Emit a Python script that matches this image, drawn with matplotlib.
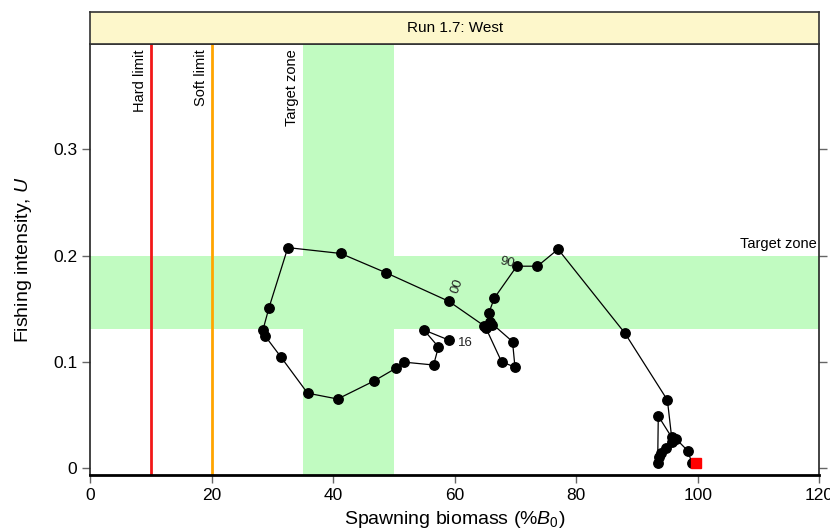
import numpy as np
import matplotlib
matplotlib.use('Agg')
import matplotlib.pyplot as plt

plt.rcParams['font.family'] = ['Liberation Sans', 'DejaVu Sans']
plt.rcParams['mathtext.fontset'] = 'custom'
plt.rcParams['mathtext.rm'] = 'Liberation Sans'
plt.rcParams['mathtext.it'] = 'Liberation Sans:italic'

# trajectory, 1975 - 2016 (spawning biomass %B0, fishing intensity U)
years = list(range(1975, 2017))
biomass = [99.7, 99.0, 98.4, 96.5, 95.7, 94.85, 94.0, 93.7, 93.4, 93.5,
           95.7, 95.0, 88.0, 77.0, 73.6, 70.2, 66.5, 65.6, 65.8, 69.5,
           69.9, 67.7, 65.1, 66.1, 64.8, 59.0, 48.6, 41.2, 32.5, 29.4,
           28.4, 28.8, 31.3, 35.75, 40.7, 46.7, 50.3, 51.65, 56.5, 57.3,
           54.9, 59.0]
intensity = [0.005, 0.005, 0.016, 0.027, 0.025, 0.019, 0.014, 0.010, 0.005, 0.049,
             0.029, 0.064, 0.127, 0.206, 0.190, 0.190, 0.160, 0.146, 0.1375, 0.119,
             0.095, 0.100, 0.132, 0.135, 0.134, 0.157, 0.184, 0.202, 0.2075, 0.151,
             0.130, 0.124, 0.105, 0.0705, 0.065, 0.082, 0.094, 0.0997, 0.097, 0.114,
             0.130, 0.1205]

# year labels: (text, x, y, rotation)
year_labels = [('90', 68.6, 0.193, -12), ('00', 60.4, 0.171, 70), ('16', 61.8, 0.118, 0)]

hard_limit = 10
soft_limit = 20
target_b = (35, 50)
target_u = (0.131, 0.2)

fig = plt.figure(figsize=(8.3, 5.32), dpi=100)
ax = fig.add_axes([0.109, 0.107, 0.878, 0.810])

green = '#C1FBC1'
ax.axvspan(target_b[0], target_b[1], color=green, lw=0, zorder=0)
ax.axhspan(target_u[0], target_u[1], color=green, lw=0, zorder=0)
ax.axvline(hard_limit, color='#F21818', lw=2, zorder=1)
ax.axvline(soft_limit, color='#FFA500', lw=2, zorder=1)

ytop = 0.399
ax.annotate('Hard limit', (hard_limit, ytop), xytext=(-3, -4), textcoords='offset points',
            rotation=90, ha='right', va='top', fontsize=10.5)
ax.annotate('Soft limit', (soft_limit, ytop), xytext=(-3, -4), textcoords='offset points',
            rotation=90, ha='right', va='top', fontsize=10.5)
ax.annotate('Target zone', (target_b[0], ytop), xytext=(-3, -4), textcoords='offset points',
            rotation=90, ha='right', va='top', fontsize=10.5)
ax.annotate('Target zone', (120, target_u[1]), xytext=(-2, 3), textcoords='offset points',
            ha='right', va='bottom', fontsize=10.5)

ax.plot(biomass, intensity, color='black', lw=0.9, marker='o', ms=6.8, zorder=3)
ax.plot(biomass[0], intensity[0], marker='s', color='red', ms=6.5, ls='none', zorder=4)

for t, x, y, r in year_labels:
    ax.text(x, y, t, rotation=r, ha='center', va='center', fontsize=9.5, color='#222222', zorder=5)

ax.set_xlim(0, 120)
ax.set_ylim(-0.0066, ytop)
ax.set_xticks([0, 20, 40, 60, 80, 100, 120])
ax.set_yticks([0, 0.1, 0.2, 0.3])
ax.set_yticklabels(['0', '0.1', '0.2', '0.3'])
ax.tick_params(direction='out', length=6, width=1, color='#666666', labelsize=12.5,
               right=True, top=False)
for s in ax.spines.values():
    s.set_color('#222222')
    s.set_linewidth(1.2)
ax.spines['bottom'].set_linewidth(2)
ax.spines['bottom'].set_color('black')

ax.set_xlabel(r'Spawning biomass (%$B_0$)', fontsize=14, labelpad=4)
ax.set_ylabel(r'Fishing intensity, $U$', fontsize=14, labelpad=14)

# strip title
sax = fig.add_axes([0.109, 0.917, 0.878, 0.060])
sax.set_facecolor('#FDF7CB')
sax.set_xticks([])
sax.set_yticks([])
for s in sax.spines.values():
    s.set_color('#333333')
    s.set_linewidth(1.2)
sax.text(0.5, 0.5, 'Run 1.7: West', ha='center', va='center', fontsize=11, transform=sax.transAxes)

fig.savefig('out.png', dpi=100)
